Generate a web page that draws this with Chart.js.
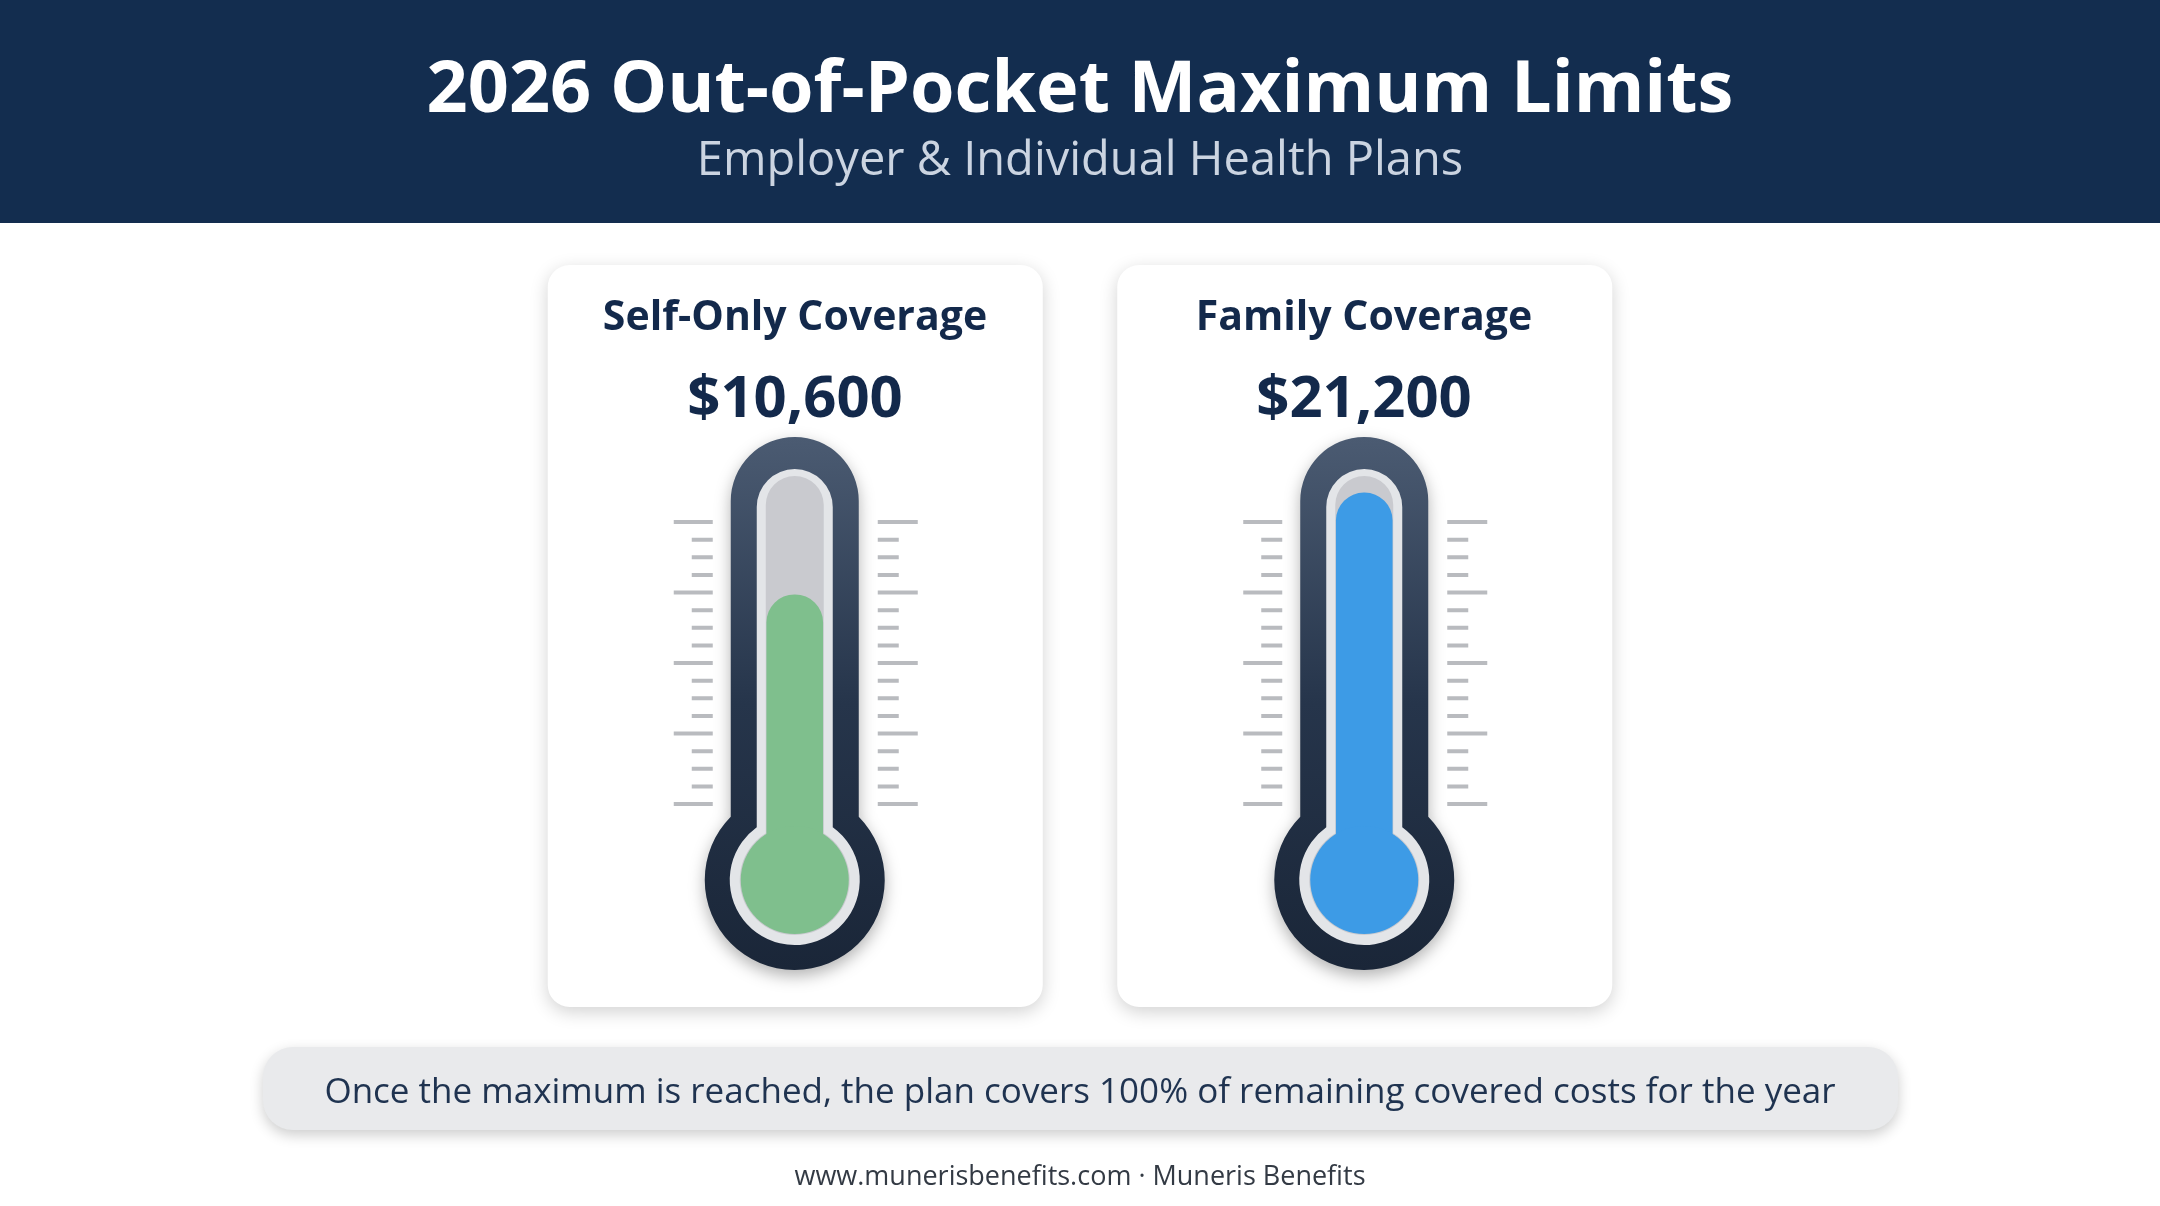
<!DOCTYPE html>
<html><head><meta charset="utf-8">
<script src="https://cdn.jsdelivr.net/npm/chart.js@4.4.1/dist/chart.umd.min.js"></script>
<style>
html,body{margin:0;padding:0;width:2160px;height:1206px;background:#fff;overflow:hidden;font-family:"Open Sans",sans-serif}
#hdr{position:absolute;left:0;top:0;width:2160px;height:223px;background:#132d4f}
.t{position:absolute;white-space:nowrap;transform:translate(-50%,-50%);z-index:3}
#c{position:absolute;left:0;top:0;z-index:1}
</style></head><body>
<div id="hdr"></div>
<div class="t" style="left:1080px;top:84px;color:#fff;font-size:72px;font-weight:700">2026 Out-of-Pocket Maximum Limits</div>
<div class="t" style="left:1080px;top:157px;color:#cbd4e1;font-size:47px">Employer &amp; Individual Health Plans</div>
<div id="labels"></div>
<canvas id="c" width="2160" height="1206"></canvas>
<div class="t" style="left:1080px;top:1089px;color:#1f3350;font-size:35px">Once the maximum is reached, the plan covers 100% of remaining covered costs for the year</div>
<div class="t" style="left:1080px;top:1174px;color:#333a44;font-size:27px">www.munerisbenefits.com · Muneris Benefits</div>
<script>
const categories = ["Self-Only Coverage", "Family Coverage"];
const limits = [10600, 21200];
const valueLabels = ["$10,600", "$21,200"];
const fillColors = ["#7fbf8d", "#3d9be6"];

const Y_MIN = -20000, Y_MAX = 24000;
const lab = document.getElementById('labels');
const centers = [795, 1364];
categories.forEach((c,i)=>{
  lab.insertAdjacentHTML('beforeend',
   `<div class="t" style="left:${centers[i]}px;top:314px;color:#13294b;font-size:41px;font-weight:700">${c}</div>`+
   `<div class="t" style="left:${centers[i]}px;top:394px;color:#13294b;font-size:58px;font-weight:700">${valueLabels[i]}</div>`);
});

function rr(ctx,x,y,w,h,r){ctx.beginPath();ctx.roundRect(x,y,w,h,r);}
function tubeShape(ctx,cx,top,hw,by,br){
  const ang=Math.asin(hw/br);
  ctx.beginPath();
  ctx.moveTo(cx-hw,top+hw);
  ctx.arc(cx,top+hw,hw,Math.PI,0);
  ctx.lineTo(cx+hw,by-br*Math.cos(ang));
  ctx.arc(cx,by,br,-Math.PI/2+ang,-Math.PI/2-ang+2*Math.PI);
  ctx.closePath();
}
const deco={
  id:'deco',
  beforeDatasetsDraw(chart){
    const ctx=chart.ctx;
    const xs=chart.scales.x;
    chart.data.labels.forEach((l,i)=>{
      const cx=xs.getPixelForValue(i);
      ctx.save();
      ctx.shadowColor='rgba(0,0,0,0.18)';ctx.shadowBlur=18;ctx.shadowOffsetY=5;
      ctx.fillStyle='#fff';rr(ctx,cx-247,265,495,742,22);ctx.fill();
      ctx.restore();
      ctx.save();ctx.lineWidth=4;ctx.strokeStyle='#b9bbbf';ctx.lineCap='butt';
      for(let k=0;k<17;k++){
        const y=522+k*(804-522)/16;const maj=k%4===0;
        ctx.beginPath();ctx.moveTo(cx-(maj?121:103),y);ctx.lineTo(cx-82,y);
        ctx.moveTo(cx+83,y);ctx.lineTo(cx+(maj?123:104),y);ctx.stroke();
      }
      ctx.restore();
      ctx.save();
      ctx.shadowColor='rgba(0,0,0,0.3)';ctx.shadowBlur=16;ctx.shadowOffsetY=6;
      const g=ctx.createLinearGradient(0,437,0,970);g.addColorStop(0,'#4b5b72');g.addColorStop(0.5,'#26354b');g.addColorStop(1,'#1a2638');
      ctx.fillStyle=g;tubeShape(ctx,cx,437,64,880,90);ctx.fill();
      ctx.restore();
      ctx.fillStyle='#e3e5e8';tubeShape(ctx,cx,469,38,880,65);ctx.fill();
      ctx.fillStyle='#c9cacf';tubeShape(ctx,cx,476,29,880,55);ctx.fill();
    });
  },
  afterDatasetsDraw(chart){
    const ctx=chart.ctx;const xs=chart.scales.x;
    chart.data.labels.forEach((l,i)=>{
      const cx=xs.getPixelForValue(i);
      ctx.fillStyle=fillColors[i];ctx.beginPath();ctx.arc(cx,880,54,0,2*Math.PI);ctx.fill();
    });
    ctx.save();
    ctx.shadowColor='rgba(0,0,0,0.2)';ctx.shadowBlur=14;ctx.shadowOffsetY=5;
    ctx.fillStyle='#e9eaec';rr(ctx,263,1047,1635,83,30);ctx.fill();
    ctx.restore();
  }
};
new Chart(document.getElementById('c'),{
  type:'bar',
  data:{labels:categories,datasets:[{data:limits.map(v=>[Y_MIN,v]),backgroundColor:fillColors,barThickness:56,
    borderRadius:{topLeft:28,topRight:28,bottomLeft:0,bottomRight:0},borderSkipped:false}]},
  options:{responsive:false,animation:false,devicePixelRatio:1,
    layout:{padding:{left:510,right:511,top:466,bottom:317}},
    plugins:{legend:{display:false},tooltip:{enabled:false}},
    scales:{x:{display:false},y:{display:false,min:Y_MIN,max:Y_MAX}}},
  plugins:[deco]
});
</script></body></html>
